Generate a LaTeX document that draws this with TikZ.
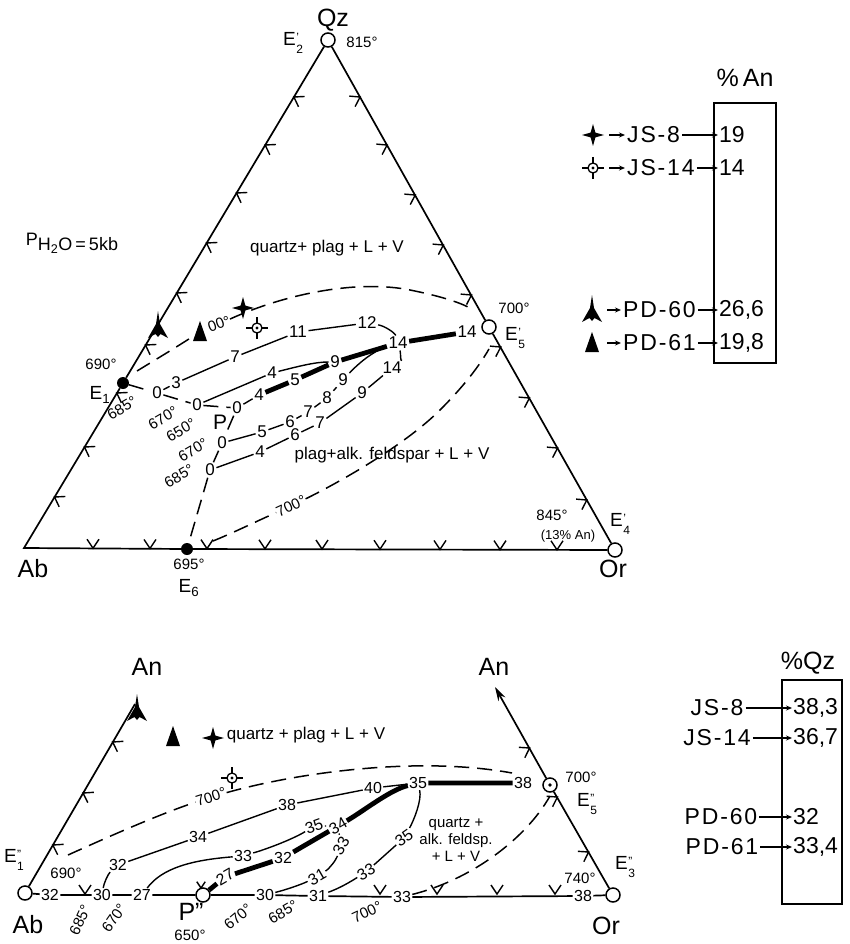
\documentclass[tikz,border=0pt]{standalone}
\usepackage{fontspec}
\setmainfont{Liberation Sans}
\newfontfamily\legfont[LetterSpace=8]{Liberation Sans}
\usetikzlibrary{arrows.meta}
\newcommand\Epp[2]{E\kern0.5pt\raisebox{-0.42em}{\fontsize{12}{12.5}\selectfont\begin{tabular}[b]{@{}l@{}}#1\\#2\end{tabular}}}
\tikzset{
  num/.style={font=\fontsize{17}{17}\selectfont, inner sep=1.5pt},
  numb/.style={font=\fontsize{16}{16}\selectfont, inner sep=1.2pt},
  tmp/.style={font=\fontsize{15}{15}\selectfont, inner sep=0.5pt},
  big/.style={font=\fontsize{25}{25}\selectfont, inner sep=1pt},
  elab/.style={font=\fontsize{19}{19}\selectfont, inner sep=1pt},
  reg/.style={font=\fontsize{17}{17}\selectfont, inner sep=1pt},
  regs/.style={font=\fontsize{15}{17}\selectfont, inner sep=1pt, align=center},
  leg/.style={font=\legfont\fontsize{23}{23}\selectfont, inner sep=2pt},
  val/.style={font=\fontsize{23}{23}\selectfont, inner sep=1pt, anchor=west},
  side/.style={line width=1.7pt},
  iso/.style={line width=1.4pt},
  fat/.style={line width=4.8pt},
  dsh/.style={line width=1.5pt, dash pattern=on 15pt off 8pt},
  ocirc/.style={circle, draw, line width=1.5pt, fill=white, minimum size=14pt, inner sep=0pt},
  bdot/.style={circle, fill, minimum size=12pt, inner sep=0pt},
  larr/.style={line width=1.3pt, -{Stealth[length=6pt,width=5pt]}},
  tk/.pic={\draw[line width=1.4pt] (-6,-9) -- (0,0) -- (6,-9);},
  starsym/.pic={\fill (0,-11) -- (2.4,-2.4) -- (11,0) -- (2.4,2.4) -- (0,11) -- (-2.4,2.4) -- (-11,0) -- (-2.4,-2.4) -- cycle;},
  circsym/.pic={\draw[line width=1.3pt, fill=white] (0,0) circle (5); \fill (0,0) circle (1.7);
     \draw[line width=1.3pt] (-11,0) -- (-5,0) (5,0) -- (11,0) (0,-11) -- (0,-5) (0,5) -- (0,11);},
  spikesym/.pic={\fill (0,-15) -- (2,-2) -- (10,12) -- (2.5,8) -- (0,11) -- (-2.5,8) -- (-10,12) -- (-2,-2) -- cycle;},
  trisym/.pic={\fill (0,-11) -- (7,9) -- (-7,9) -- cycle;},
}
\begin{document}
\begin{tikzpicture}[x=1pt,y=-1pt]
\useasboundingbox (0,0) rectangle (849,944);

% ================= TOP TRIANGLE =================
\coordinate (ab) at (24,548);
\node[ocirc] (qz) at (328,40) {};
\node[ocirc] (or) at (615,550) {};
\node[ocirc] (e5) at (489,327) {};
\node[bdot] (e1) at (123,383) {};
\node[bdot] (e6) at (187,549) {};
\draw[side] (qz) -- (e5) -- (or) -- (e6) -- (ab) -- (e1) -- (qz);

% ticks
\foreach \yy in {97,145,193,243,293,345,393,447,497}
  \pic[rotate=-121] at ({328-0.5984*(\yy-40)},\yy) {tk};
\foreach \yy in {97,145,195,245,295,347,398,448,500}
  \pic[rotate=119] at ({328+0.5627*(\yy-40)},\yy) {tk};
\foreach \xx in {93,150,207,265,322,380,440,500,557}
  \pic at (\xx,{548+(\xx-24)/295}) {tk};

% isopleth labels
\node[num] (a0) at (157,393) {0};
\node[num] (a3) at (176,383) {3};
\node[num] (a7) at (235,357) {7};
\node[num] (a11) at (298,332) {11};
\node[num] (a12) at (367,323) {12};
\node[num] (b0) at (197,405) {0};
\node[num] (b4) at (272,373) {4};
\node[num] (p0) at (237,408) {0};
\node[num] (p4) at (259,395) {4};
\node[num] (p5) at (295,380) {5};
\node[num] (p9) at (335,362) {9};
\node[num] (p14) at (398,343) {14};
\node[num] (q14) at (467,332) {14};
\node[num] (c0) at (222,443) {0};
\node[num] (c5) at (262,432) {5};
\node[num] (c6) at (290,422) {6};
\node[num] (c7) at (308,412) {7};
\node[num] (c8) at (327,398) {8};
\node[num] (c9) at (343,380) {9};
\node[num] (d0) at (210,470) {0};
\node[num] (d4) at (260,452) {4};
\node[num] (d6) at (295,435) {6};
\node[num] (d7) at (320,423) {7};
\node[num] (d9) at (362,393) {9};
\node[num] (d14) at (392,368) {14};

% cotectic
\draw[dsh] (e1) -- (a0) -- (b0) -- (p0) -- (c0) -- (d0) -- (e6);
% isopleths
\draw[iso] (a0) -- (a3) -- (a7) -- (a11) -- (a12) .. controls (385,326) and (395,333) .. (p14);
\draw[iso] (b0) -- (b4) .. controls (300,366) and (315,362) .. (p9);
\draw[iso] (p0) -- (p4);
\draw[fat] (p4) -- (p5) -- (p9) -- (p14) -- (q14);
\coordinate (cj) at (381,349);
\draw[iso] (c0) -- (c5) -- (c6) -- (c7) -- (c8) -- (c9) .. controls (356,366) and (368,355) .. (cj);
\draw[iso] (d0) -- (d4) -- (d6) -- (d7) -- (d9) -- (d14) .. controls (400,362) and (401,354) .. (p14);

% temperatures on cotectic
\node[tmp, rotate=30] (t685a) at (122,408) {685°};
\node[tmp, rotate=30] (t670a) at (163,418) {670°};
\node[tmp, rotate=30] (t650) at (181,430) {650°};
\node[font=\fontsize{21}{21}\selectfont] (lP) at (220,422) {P};
\node[tmp, rotate=30] (t670b) at (193,450) {670°};
\node[tmp, rotate=30] (t685b) at (179,476) {685°};
\node[tmp] (t690) at (101,364) {690°};
\node[elab] (lE1) at (100,395) {E\textsubscript{1}};

% 700 isotherms
\node[tmp, rotate=25] (l700a) at (291,506) {700°};
\coordinate (ls0) at (213,541);
\coordinate (ls1) at (489,349);
\draw[dsh] (ls0) .. controls (235,532) and (255,522) .. (l700a) .. controls (340,482) and (405,445) .. (440,410) .. controls (462,388) and (478,368) .. (ls1);
\node[tmp, rotate=20] (l700b) at (219,324) {00°};
\coordinate (us0) at (137,371);
\coordinate (us1) at (192,337);
\coordinate (us2) at (468,307);
\draw[dsh] (us0) .. controls (155,360) and (175,348) .. (us1);
\draw[dsh] (l700b) .. controls (290,292) and (360,280) .. (410,290) .. controls (440,296) and (458,302) .. (us2);

% symbols
\pic at (158,326) {spikesym};
\pic at (200,332) {trisym};
\pic at (243,308) {starsym};
\pic at (257,328) {circsym};

% labels
\node[big] (lQz) at (333,20) {Qz};
\node[elab] (lE2) at (293,45) {\Epp{'}{2}};
\node[tmp] (t815) at (362,42) {815°};
\node[font=\fontsize{18}{18}\selectfont] (lP5) at (72,243) {\raisebox{0.55ex}{P}H\textsubscript{2}O\,=\,5kb};
\node[reg] (rq) at (327,248) {quartz+ plag + L + V};
\node[reg] (rp) at (392,455) {plag+alk. feldspar + L + V};
\node[tmp] (t700e5) at (514,308) {700°};
\node[elab] (lE5) at (515,340) {\Epp{'}{5}};
\node[tmp] (t845) at (552,515) {845°};
\node[font=\fontsize{13}{13}\selectfont] (l13) at (568,536) {(13\% An)};
\node[elab] (lE4) at (620,526) {\Epp{'}{4}};
\node[big] (lOr) at (613,569) {Or};
\node[big] (lAb) at (33,569) {Ab};
\node[tmp] (t695) at (189,564) {695°};
\node[elab] (lE6) at (189,588) {E\textsubscript{6}};

% ================= TOP LEGEND =================
\node[big] (lpan) at (745,78) {\%\,An};
\draw[side] (714,103) rectangle (776,363);
\pic at (593,135) {starsym};
\pic at (593,168) {circsym};
\pic at (592,310) {spikesym};
\pic at (592,343) {trisym};
\coordinate (sa1) at (609,135);
\coordinate (sa2) at (609,168);
\coordinate (sa3) at (607,310);
\coordinate (sa4) at (607,343);
\node[leg, anchor=west] (ta1) at (625,135) {JS-8};
\node[leg, anchor=west] (ta2) at (625,168) {JS-14};
\node[leg, anchor=west] (ta3) at (621,310) {PD-60};
\node[leg, anchor=west] (ta4) at (621,343) {PD-61};
\node[val] (va1) at (718,135) {19};
\node[val] (va2) at (718,168) {14};
\node[val] (va3) at (718,310) {26,6};
\node[val] (va4) at (718,343) {19,8};
\foreach \i in {1,2,3,4} {
  \draw[larr] (sa\i) -- (ta\i.west);
  \draw[larr] (ta\i.east) -- (va\i.west);
}

% ================= BOTTOM TRIANGLE =================
\node[ocirc] (be1) at (25,893) {};
\node[ocirc] (bp) at (203,895) {};
\node[ocirc] (be5) at (550,785) {};
\fill (be5) circle (1.8);
\node[ocirc] (be3) at (613,895) {};
\coordinate (anl) at (135,704);
\coordinate (anr) at (495,687);
\draw[side] (be1) -- (anl);
\draw[side] (be3) -- (be5);
\draw[side, -{Stealth[length=14pt,width=8pt]}] (be5) -- (anr);

\node[numb] (b32) at (50,895) {32};
\node[numb] (b30) at (102,895) {30};
\node[numb] (b27) at (142,895) {27};
\node[numb] (b30b) at (265,895) {30};
\node[numb] (b31) at (318,896) {31};
\node[numb] (b33) at (402,897) {33};
\node[numb] (b38) at (583,896) {38};
\draw[side] (be1) -- (b32) -- (b30) -- (b27) -- (bp) -- (b30b) -- (b31) -- (b33) -- (b38) -- (be3);

\foreach \xx in {85,380,437,497,555}
  \pic at (\xx,894) {tk};
\pic[scale=0.7] at (201,888) {tk};
\foreach \yy in {742,793,845}
  \pic[rotate=-120] at ({25+0.5803*(893-\yy)},\yy) {tk};
\foreach \yy in {748,797,852}
  \pic[rotate=120] at ({613-0.5673*(895-\yy)},\yy) {tk};

\node[numb] (k32) at (118,865) {32};
\node[numb] (k34) at (198,837) {34};
\node[numb] (k38) at (287,805) {38};
\node[numb] (k40) at (373,788) {40};
\node[numb] (j35) at (418,783) {35};
\node[numb] (j38) at (523,783) {38};
\node[numb] (m33) at (243,856) {33};
\node[numb, rotate=20] (m35) at (314,826) {35};
\node[numb, rotate=30] (h34) at (338,826) {34};
\node[numb, rotate=30] (f27) at (225,877) {27};
\node[numb] (f32) at (283,858) {32};
\node[numb, rotate=30] (g31) at (317,877) {31};
\node[numb, rotate=60] (g33) at (341,846) {33};
\node[numb, rotate=30] (r33) at (366,872) {33};
\node[numb, rotate=35] (r35) at (404,838) {35};

\draw[iso] (b30) .. controls (104,883) and (108,874) .. (k32) -- (k34) -- (k38) -- (k40) -- (j35);
\draw[iso] (b27) .. controls (162,868) and (192,860) .. (m33) .. controls (270,848) and (295,838) .. (m35) -- (h34);
\draw[fat] (bp) -- (f27) -- (f32) -- (h34) .. controls (365,810) and (390,790) .. (j35) -- (j38);
\draw[iso] (b30b) .. controls (285,890) and (300,885) .. (g31) .. controls (330,868) and (336,860) .. (g33) -- (h34);
\draw[iso] (b31) .. controls (340,888) and (350,882) .. (r33) -- (r35) .. controls (414,820) and (422,800) .. (j35);
\coordinate (dz1) at (550,796);
\draw[dsh] (b33) .. controls (470,880) and (525,840) .. (dz1);
\node[tmp, rotate=18] (w700) at (211,797) {700°};
\coordinate (w0) at (68,855);
\coordinate (w1) at (512,773);
\draw[dsh] (w0) .. controls (110,836) and (160,814) .. (w700) .. controls (300,772) and (420,756) .. (w1);

\pic at (173,737) {trisym};
\pic at (213,738) {starsym};
\pic at (232,778) {circsym};
\pic at (137,709) {spikesym};

\node[reg] (brq) at (306,735) {quartz + plag + L + V};
\node[regs] (brp) at (456,840) {quartz +\\alk. feldsp.\\+ L + V};
\node[tmp] (bt690) at (66,873) {690°};
\node[tmp, rotate=65] (bt685a) at (80,920) {685°};
\node[tmp, rotate=55] (bt670a) at (114,918) {670°};
\node[big] (bP) at (191,912) {P''};
\node[tmp] (bt650) at (190,935) {650°};
\node[tmp, rotate=40] (bt670b) at (238,917) {670°};
\node[tmp, rotate=30] (bt685b) at (283,912) {685°};
\node[tmp, rotate=25] (bt700) at (367,912) {700°};
\node[tmp] (bt700r) at (581,777) {700°};
\node[elab] (bE5) at (587,806) {\Epp{''}{5}};
\node[tmp] (bt740) at (580,878) {740°};
\node[elab] (bE3) at (625,869) {\Epp{''}{3}};
\node[elab] (bE1) at (14,862) {\Epp{''}{1}};
\node[big] (bAb) at (28,925) {Ab};
\node[big] (bOr) at (606,926) {Or};
\node[big] (bAnl) at (147,667) {An};
\node[big] (bAnr) at (494,667) {An};

% ================= BOTTOM LEGEND =================
\node[big] (lpqz) at (808,663) {\%Qz};
\draw[side] (782,680) rectangle (842,904);
\node[leg] (tb1) at (717,708) {JS-8};
\node[leg] (tb2) at (717,738) {JS-14};
\node[leg] (tb3) at (721,817) {PD-60};
\node[leg] (tb4) at (722,847) {PD-61};
\node[val] (vb1) at (792,708) {38,3};
\node[val] (vb2) at (792,738) {36,7};
\node[val] (vb3) at (792,817) {32};
\node[val] (vb4) at (792,847) {33,4};
\foreach \i in {1,2,3,4}
  \draw[larr] (tb\i.east) -- (vb\i.west);
\end{tikzpicture}
\end{document}
